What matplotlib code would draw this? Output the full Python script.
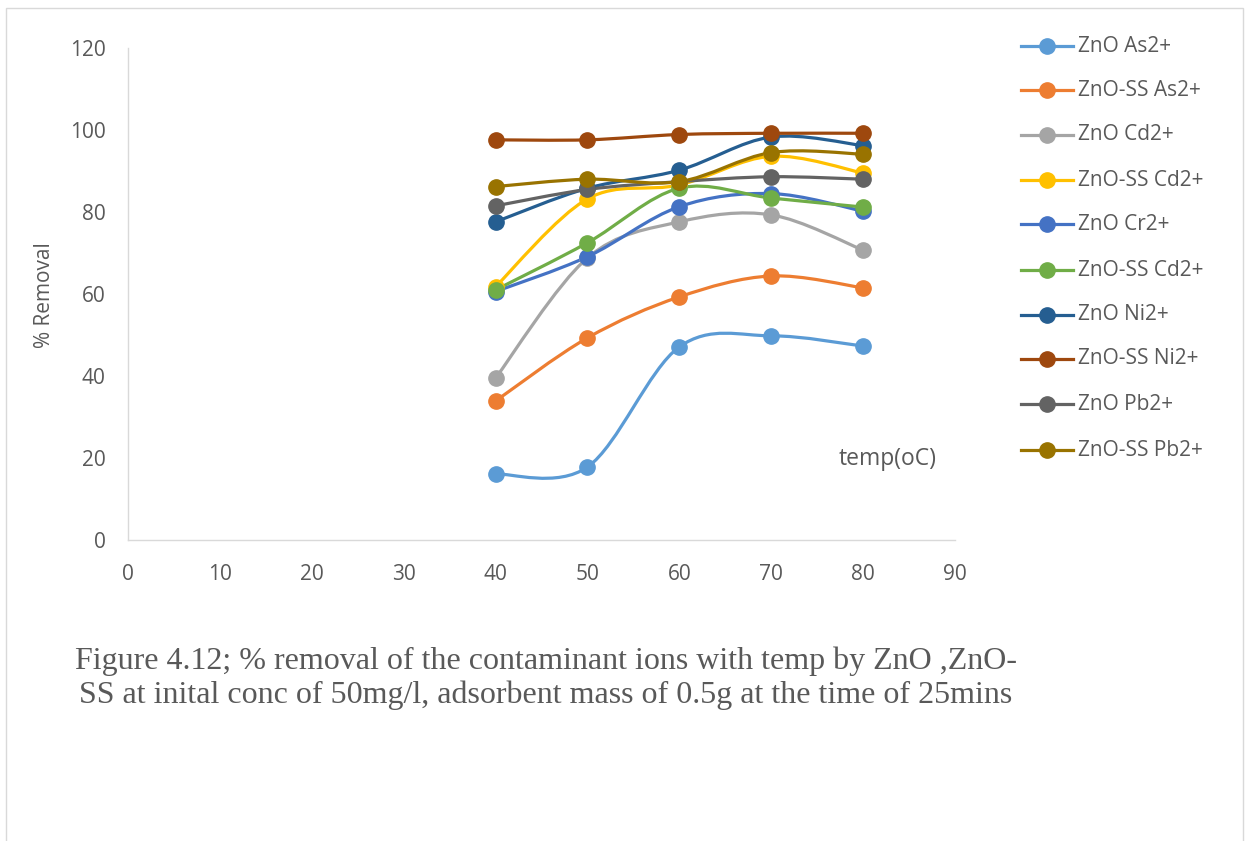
import numpy as np
import matplotlib
matplotlib.use("Agg")
import matplotlib.pyplot as plt
from matplotlib.path import Path
from matplotlib.patches import PathPatch, Rectangle
from matplotlib.lines import Line2D

temps = [40, 50, 60, 70, 80]
series_names = ["ZnO As2+", "ZnO-SS As2+", "ZnO Cd2+", "ZnO-SS Cd2+", "ZnO Cr2+",
                "ZnO-SS Cd2+", "ZnO Ni2+", "ZnO-SS Ni2+", "ZnO Pb2+", "ZnO-SS Pb2+"]
zno_as = [16.1, 17.8, 47.1, 49.8, 47.3]
znoss_as = [33.9, 49.3, 59.3, 64.4, 61.5]
zno_cd = [39.5, 68.8, 77.6, 79.3, 70.7]
znoss_cd = [61.8, 83.2, 86.6, 93.6, 89.5]
zno_cr = [60.6, 69.1, 81.3, 84.5, 80.2]
znoss_cd2 = [61.0, 72.5, 85.8, 83.4, 81.2]
zno_ni = [77.6, 85.8, 90.2, 98.3, 96.2]
znoss_ni = [97.6, 97.6, 98.9, 99.2, 99.2]
zno_pb = [81.5, 85.5, 87.4, 88.6, 88.0]
znoss_pb = [86.2, 88.0, 87.4, 94.5, 94.1]
all_values = [zno_as, znoss_as, zno_cd, znoss_cd, zno_cr, znoss_cd2, zno_ni, znoss_ni, zno_pb, znoss_pb]
colors = ["#5B9BD5", "#ED7D31", "#A5A5A5", "#FFC000", "#4472C4",
          "#70AD47", "#255E91", "#9E480E", "#636363", "#997300"]
x_ticks = [0, 10, 20, 30, 40, 50, 60, 70, 80, 90]
y_ticks = [0, 20, 40, 60, 80, 100, 120]

W, H = 1251, 841
fig = plt.figure(figsize=(W / 100, H / 100), dpi=100)
fig.patches.append(Rectangle((6 / W, -0.01), (1243 - 6) / W, (H - 8) / H + 0.01,
                             transform=fig.transFigure, fill=False, edgecolor="#d9d9d9", lw=1.0))

ax = fig.add_axes([128 / W, 1 - 540 / H, (955 - 128) / W, (540 - 48) / H])
ax.set_xlim(0, 90)
ax.set_ylim(0, 120)
for s in ["top", "right"]:
    ax.spines[s].set_visible(False)
for s in ["left", "bottom"]:
    ax.spines[s].set_color("#d9d9d9")
    ax.spines[s].set_linewidth(1.0)
ax.set_xticks(x_ticks)
ax.set_yticks(y_ticks)
ax.tick_params(length=0, labelsize=15, labelcolor="#595959")
ax.tick_params(axis="x", pad=17)
ax.tick_params(axis="y", pad=16)
for lab in ax.get_xticklabels() + ax.get_yticklabels():
    lab.set_fontfamily("Open Sans")


def smooth_path(xs, ys, t=1 / 6):
    xs = np.asarray(xs, float)
    ys = np.asarray(ys, float)
    n = len(xs)
    verts = [(xs[0], ys[0])]
    codes = [Path.MOVETO]
    for i in range(n - 1):
        p0 = (xs[max(i - 1, 0)], ys[max(i - 1, 0)])
        p1 = (xs[i], ys[i])
        p2 = (xs[i + 1], ys[i + 1])
        p3 = (xs[min(i + 2, n - 1)], ys[min(i + 2, n - 1)])
        c1 = (p1[0] + (p2[0] - p0[0]) * t, p1[1] + (p2[1] - p0[1]) * t)
        c2 = (p2[0] - (p3[0] - p1[0]) * t, p2[1] - (p3[1] - p1[1]) * t)
        verts += [c1, c2, p2]
        codes += [Path.CURVE4] * 3
    return Path(verts, codes)


for vals, col in zip(all_values, colors):
    patch = PathPatch(smooth_path(temps, vals), fill=False, edgecolor=col, lw=2.3,
                      capstyle="round", joinstyle="round", zorder=2)
    ax.add_patch(patch)
    ax.plot(temps, vals, linestyle="none", marker="o", markersize=11, color=col, zorder=3)

fig.text(45 / W, 1 - 295 / H, "% Removal", rotation=90, ha="center", va="center",
         fontsize=15, color="#595959", fontfamily="Open Sans")
fig.text(888 / W, 1 - 459 / H, "temp(oC)", ha="center", va="center",
         fontsize=16.5, color="#595959", fontfamily="Open Sans")

# legend
leg_y = [46, 90, 135, 180, 224, 270, 315, 359, 404, 450]
for name, col, yy in zip(series_names, colors, leg_y):
    yf = 1 - yy / H
    fig.add_artist(Line2D([1021 / W, 1073 / W], [yf, yf], transform=fig.transFigure,
                          color=col, lw=2.3))
    fig.add_artist(Line2D([1047 / W], [yf], transform=fig.transFigure, marker="o",
                          markersize=11, color=col, linestyle="none"))
    fig.text(1078 / W, yf, name, ha="left", va="center", fontsize=15, color="#595959",
             fontfamily="Open Sans")

fig.text(546 / W, 1 - 678 / H,
         "Figure 4.12; % removal of the contaminant ions with temp by ZnO ,ZnO-\nSS at inital conc of 50mg/l, adsorbent mass of 0.5g at the time of 25mins",
         ha="center", va="center", fontsize=23, color="#595959", fontfamily="Liberation Serif",
         linespacing=1.2)

fig.savefig("out.png", dpi=100)
